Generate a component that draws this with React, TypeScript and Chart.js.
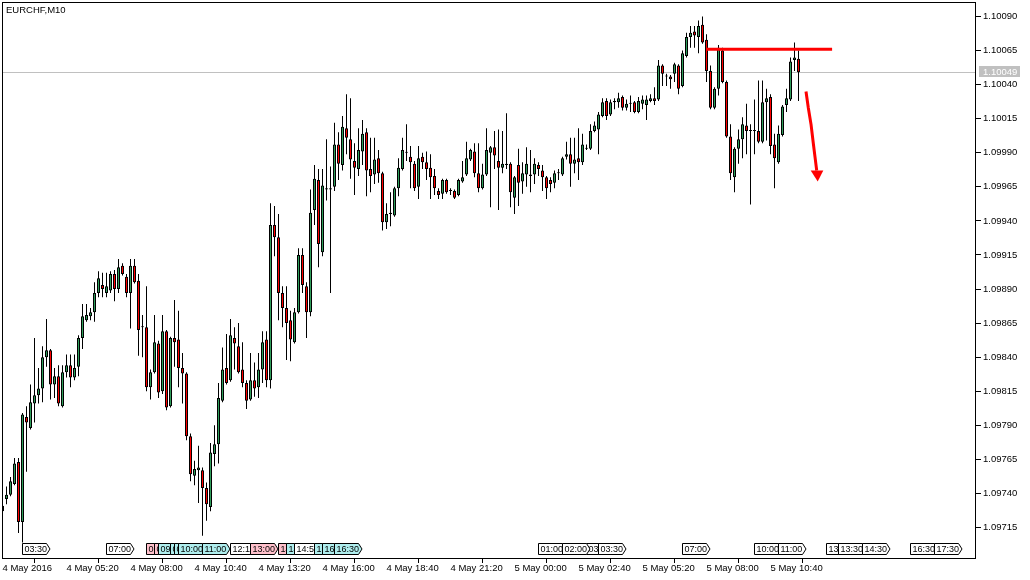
import React, { useEffect, useRef } from 'react';
import { Chart, registerables } from 'chart.js';

Chart.register(...registerables);

// ---------- data (EURCHF, M10) ----------
const opens = [
  1.09727, 1.09736, 1.09739, 1.09747, 1.09763, 1.09719, 1.09796, 1.09788, 1.09806, 1.09812,
  1.09817, 1.09840, 1.09845, 1.09820, 1.09826, 1.09804, 1.09829, 1.09834, 1.09825, 1.09833,
  1.09854, 1.09867, 1.09870, 1.09873, 1.09887, 1.09893, 1.09887, 1.09889, 1.09901, 1.09890,
  1.09907, 1.09899, 1.09887, 1.09907, 1.09896, 1.09862, 1.09862, 1.09818, 1.09829, 1.09850,
  1.09815, 1.09859, 1.09804, 1.09854, 1.09853, 1.09832, 1.09828, 1.09782, 1.09753, 1.09757,
  1.09757, 1.09744, 1.09730, 1.09769, 1.09776, 1.09808, 1.09832, 1.09823, 1.09854, 1.09848,
  1.09831, 1.09821, 1.09809, 1.09823, 1.09818, 1.09831, 1.09853, 1.09823, 1.09937, 1.09928,
  1.09887, 1.09876, 1.09867, 1.09851, 1.09873, 1.09915, 1.09892, 1.09873, 1.09948, 1.09970,
  1.09917, 1.09964, 1.09964, 1.09965, 1.09996, 1.09981, 1.10008, 1.10000, 1.09984, 1.09978,
  1.09991, 1.10005, 1.09978, 1.09974, 1.09986, 1.09975, 1.09939, 1.09945, 1.09944, 1.09964,
  1.09978, 1.09990, 1.09987, 1.09982, 1.09965, 1.09987, 1.09983, 1.09979, 1.09973, 1.09962,
  1.09960, 1.09970, 1.09962, 1.09962, 1.09959, 1.09969, 1.09974, 1.09985, 1.09991, 1.09975,
  1.09964, 1.09974, 1.09990, 1.09994, 1.09984, 1.09979, 1.09982, 1.09982, 1.09957, 1.09981,
  1.09969, 1.09974, 1.09974, 1.09974, 1.09981, 1.09977, 1.09972, 1.09970, 1.09968, 1.09975,
  1.09974, 1.09987, 1.09989, 1.09982, 1.09986, 1.09983, 1.09993, 1.09993, 1.10006, 1.10007,
  1.10017, 1.10028, 1.10018, 1.10028, 1.10027, 1.10031, 1.10023, 1.10026, 1.10027, 1.10020,
  1.10026, 1.10025, 1.10028, 1.10030, 1.10029, 1.10054, 1.10046, 1.10046, 1.10048, 1.10054,
  1.10039, 1.10061, 1.10075, 1.10079, 1.10075, 1.10084, 1.10073, 1.10050, 1.10023, 1.10037,
  1.10065, 1.10042, 1.10002, 1.09972, 1.09993, 1.10000, 1.10010, 1.10006, 1.10006, 1.10006,
  1.09998, 1.10027, 1.10031, 1.09996, 1.09983, 1.10003, 1.10025, 1.10029, 1.10058, 1.10059,
];
const highs = [
  1.09737, 1.09745, 1.09752, 1.09766, 1.09766, 1.09799, 1.09804, 1.09820, 1.09854, 1.09832,
  1.09848, 1.09868, 1.09846, 1.09832, 1.09834, 1.09834, 1.09842, 1.09842, 1.09842, 1.09856,
  1.09879, 1.09879, 1.09876, 1.09895, 1.09903, 1.09902, 1.09902, 1.09903, 1.09904, 1.09912,
  1.09909, 1.09901, 1.09912, 1.09912, 1.09901, 1.09871, 1.09892, 1.09831, 1.09871, 1.09852,
  1.09871, 1.09860, 1.09855, 1.09882, 1.09874, 1.09843, 1.09829, 1.09784, 1.09764, 1.09775,
  1.09759, 1.09748, 1.09777, 1.09790, 1.09821, 1.09847, 1.09857, 1.09868, 1.09862, 1.09865,
  1.09851, 1.09823, 1.09843, 1.09836, 1.09843, 1.09859, 1.09859, 1.09953, 1.09951, 1.09945,
  1.09892, 1.09892, 1.09874, 1.09876, 1.09920, 1.09920, 1.09895, 1.09963, 1.09981, 1.09978,
  1.09978, 1.10000, 1.09980, 1.10012, 1.10005, 1.10017, 1.10033, 1.10030, 1.09997, 1.10008,
  1.10014, 1.10008, 1.10001, 1.10001, 1.09992, 1.09976, 1.09953, 1.09961, 1.09965, 1.09986,
  1.10001, 1.10011, 1.09995, 1.09984, 1.09995, 1.09990, 1.09991, 1.09989, 1.09978, 1.09964,
  1.09971, 1.09971, 1.09964, 1.09963, 1.09971, 1.09984, 1.09998, 1.09993, 1.09997, 1.09997,
  1.09982, 1.10008, 1.09995, 1.10006, 1.10007, 1.10006, 1.10019, 1.09983, 1.09973, 1.09993,
  1.09983, 1.09994, 1.09992, 1.09986, 1.09983, 1.09981, 1.09973, 1.09972, 1.09977, 1.09978,
  1.09987, 1.09998, 1.10001, 1.10001, 1.10008, 1.10004, 1.09996, 1.10011, 1.10013, 1.10020,
  1.10030, 1.10030, 1.10029, 1.10030, 1.10034, 1.10032, 1.10029, 1.10032, 1.10028, 1.10031,
  1.10032, 1.10032, 1.10033, 1.10038, 1.10058, 1.10055, 1.10048, 1.10047, 1.10056, 1.10055,
  1.10065, 1.10078, 1.10083, 1.10083, 1.10087, 1.10090, 1.10077, 1.10054, 1.10038, 1.10069,
  1.10067, 1.10043, 1.10011, 1.09994, 1.10007, 1.10016, 1.10026, 1.10011, 1.10029, 1.10043,
  1.10043, 1.10037, 1.10033, 1.10004, 1.10010, 1.10025, 1.10037, 1.10060, 1.10071, 1.10065,
];
const lows = [
  1.09716, 1.09732, 1.09738, 1.09746, 1.09711, 1.09704, 1.09756, 1.09787, 1.09792, 1.09806,
  1.09807, 1.09833, 1.09809, 1.09810, 1.09804, 1.09803, 1.09825, 1.09818, 1.09823, 1.09826,
  1.09846, 1.09866, 1.09867, 1.09866, 1.09884, 1.09884, 1.09884, 1.09887, 1.09881, 1.09887,
  1.09900, 1.09884, 1.09861, 1.09894, 1.09841, 1.09840, 1.09815, 1.09809, 1.09828, 1.09810,
  1.09813, 1.09801, 1.09803, 1.09833, 1.09818, 1.09806, 1.09779, 1.09749, 1.09746, 1.09733,
  1.09709, 1.09720, 1.09727, 1.09760, 1.09762, 1.09807, 1.09820, 1.09822, 1.09831, 1.09828,
  1.09818, 1.09802, 1.09808, 1.09811, 1.09810, 1.09821, 1.09818, 1.09817, 1.09914, 1.09867,
  1.09862, 1.09838, 1.09837, 1.09850, 1.09872, 1.09887, 1.09854, 1.09870, 1.09937, 1.09906,
  1.09914, 1.09955, 1.09887, 1.09962, 1.09970, 1.09977, 1.09989, 1.09971, 1.09959, 1.09973,
  1.09981, 1.09958, 1.09961, 1.09967, 1.09968, 1.09933, 1.09934, 1.09936, 1.09943, 1.09958,
  1.09977, 1.09984, 1.09964, 1.09962, 1.09956, 1.09978, 1.09970, 1.09956, 1.09959, 1.09956,
  1.09956, 1.09960, 1.09959, 1.09956, 1.09958, 1.09968, 1.09973, 1.09984, 1.09972, 1.09961,
  1.09963, 1.09973, 1.09950, 1.09978, 1.09948, 1.09975, 1.09978, 1.09950, 1.09945, 1.09951,
  1.09960, 1.09965, 1.09961, 1.09967, 1.09973, 1.09962, 1.09956, 1.09961, 1.09964, 1.09970,
  1.09973, 1.09985, 1.09965, 1.09975, 1.09970, 1.09981, 1.09992, 1.09992, 1.10005, 1.09989,
  1.10016, 1.10014, 1.10017, 1.10022, 1.10023, 1.10021, 1.10021, 1.10020, 1.10019, 1.10019,
  1.10022, 1.10014, 1.10027, 1.10025, 1.10028, 1.10039, 1.10039, 1.10037, 1.10042, 1.10033,
  1.10038, 1.10060, 1.10067, 1.10067, 1.10063, 1.10070, 1.10042, 1.10022, 1.10022, 1.10032,
  1.10041, 1.10001, 1.09970, 1.09961, 1.09982, 1.09986, 1.09989, 1.09952, 1.09989, 1.09997,
  1.09997, 1.09999, 1.09989, 1.09964, 1.09982, 1.10002, 1.10020, 1.10028, 1.10050, 1.10028,
];
const closes = [
  1.09731, 1.09739, 1.09749, 1.09762, 1.09719, 1.09798, 1.09792, 1.09807, 1.09812, 1.09817,
  1.09840, 1.09845, 1.09820, 1.09826, 1.09806, 1.09829, 1.09834, 1.09825, 1.09832, 1.09854,
  1.09870, 1.09871, 1.09873, 1.09887, 1.09898, 1.09890, 1.09892, 1.09901, 1.09890, 1.09906,
  1.09901, 1.09887, 1.09907, 1.09895, 1.09860, 1.09862, 1.09818, 1.09829, 1.09851, 1.09814,
  1.09859, 1.09803, 1.09854, 1.09851, 1.09832, 1.09828, 1.09782, 1.09754, 1.09758, 1.09759,
  1.09744, 1.09732, 1.09770, 1.09776, 1.09810, 1.09831, 1.09821, 1.09856, 1.09850, 1.09829,
  1.09821, 1.09808, 1.09823, 1.09817, 1.09831, 1.09851, 1.09823, 1.09937, 1.09928, 1.09887,
  1.09876, 1.09865, 1.09853, 1.09873, 1.09915, 1.09893, 1.09873, 1.09946, 1.09971, 1.09923,
  1.09966, 1.09963, 1.09963, 1.09996, 1.09982, 1.10009, 1.10001, 1.09985, 1.09979, 1.09992,
  1.10004, 1.09977, 1.09973, 1.09985, 1.09975, 1.09939, 1.09945, 1.09946, 1.09964, 1.09979,
  1.09992, 1.09990, 1.09983, 1.09964, 1.09986, 1.09983, 1.09978, 1.09972, 1.09964, 1.09959,
  1.09970, 1.09961, 1.09962, 1.09957, 1.09970, 1.09972, 1.09986, 1.09992, 1.09975, 1.09964,
  1.09974, 1.09992, 1.09994, 1.09988, 1.09979, 1.09982, 1.09981, 1.09961, 1.09972, 1.09968,
  1.09975, 1.09982, 1.09973, 1.09982, 1.09978, 1.09972, 1.09964, 1.09967, 1.09975, 1.09975,
  1.09986, 1.09989, 1.09982, 1.09985, 1.09983, 1.09996, 1.09993, 1.10006, 1.10010, 1.10018,
  1.10027, 1.10017, 1.10027, 1.10027, 1.10030, 1.10023, 1.10026, 1.10026, 1.10020, 1.10028,
  1.10029, 1.10029, 1.10030, 1.10028, 1.10054, 1.10048, 1.10046, 1.10044, 1.10055, 1.10037,
  1.10063, 1.10075, 1.10078, 1.10076, 1.10083, 1.10071, 1.10050, 1.10023, 1.10037, 1.10067,
  1.10042, 1.10002, 1.09975, 1.09993, 1.10000, 1.10011, 1.10006, 1.10006, 1.10006, 1.09998,
  1.10027, 1.10030, 1.09995, 1.09986, 1.10004, 1.10024, 1.10030, 1.10057, 1.10060, 1.10049,
];

// price axis ticks
const priceTicks = [
  1.10090, 1.10065, 1.10040, 1.10015, 1.09990, 1.09965, 1.09940, 1.09915,
  1.09890, 1.09865, 1.09840, 1.09815, 1.09790, 1.09765, 1.09740, 1.09715,
];
// time axis ticks (bar index) and labels
const timeTickBars = [0, 16, 32, 48, 64, 80, 96, 112, 128, 144, 160, 176, 192];
const timeTickLabels = [
  '4 May 2016', '4 May 05:20', '4 May 08:00', '4 May 10:40', '4 May 13:20', '4 May 16:00',
  '4 May 18:40', '4 May 21:20', '5 May 00:00', '5 May 02:40', '5 May 05:20', '5 May 08:00', '5 May 10:40',
];

// session / event labels along the bottom (bar index, text, colour key)
const eventBars = [5, 26, 36, 38, 39, 42, 43, 44, 50, 57, 62, 69, 71, 73, 78, 80, 83,
  134, 146, 140, 149, 170, 188, 194, 206, 209, 215, 227, 233];
const eventTexts = ['03:30', '07:00', '08:40', '09:00', '09:10', '09:40', '09:50', '10:00', '11:00',
  '12:10', '13:00', '14:10', '14:30', '14:50', '15:40', '16:00', '16:30',
  '01:00', '03:00', '02:00', '03:30', '07:00', '10:00', '11:00', '13:00', '13:30', '14:30', '16:30', '17:30'];
const eventKinds = ['w', 'w', 'p', 'p', 'c', 'c', 'c', 'c', 'c', 'w', 'p', 'p', 'c', 'w', 'c', 'c', 'c',
  'w', 'w', 'w', 'w', 'w', 'w', 'w', 'w', 'w', 'w', 'w', 'w'];

// annotations
const title = 'EURCHF,M10';
const bidPrice = 1.10049;
const levelBars = [176.1, 207.4];
const levelPrice = 1.10066;
const arrowBars = [200.875, 201.45, 202.125, 202.7, 203.125, 203.55];
const arrowPrices = [1.10035, 1.10023, 1.10011, 1.09997, 1.09987, 1.09977];
const arrowHeadBars = [202.05, 205.2, 203.8];
const arrowHeadPrices = [1.09977, 1.09977, 1.09969];

// ---------- styling ----------
const FONT = 'Liberation Sans';
const BULL = '#2e9e5b';
const BEAR = '#ff0000';
const KIND_COLORS: Record<string, string> = { w: '#ffffff', p: '#ffc0cb', c: '#afeeee' };

const barIdx = opens.map((_, i) => i);

const overlay = {
  id: 'overlay',
  beforeDraw(chart: any) {
    const ctx = chart.ctx;
    ctx.save();
    ctx.fillStyle = '#ffffff';
    ctx.fillRect(0, 0, chart.width, chart.height);
    ctx.restore();
  },
  beforeDatasetsDraw(chart: any) {
    const { ctx, chartArea } = chart;
    const y = Math.round(chart.scales.y.getPixelForValue(bidPrice) - 0.5) + 0.5;
    ctx.save();
    ctx.strokeStyle = '#c0c0c0';
    ctx.lineWidth = 1;
    ctx.beginPath();
    ctx.moveTo(chartArea.left, y);
    ctx.lineTo(chartArea.right, y);
    ctx.stroke();
    ctx.restore();
  },
  afterDatasetsDraw(chart: any) {
    const { ctx, chartArea } = chart;
    const xs = chart.scales.x;
    const ys = chart.scales.y;
    ctx.save();
    // arrow
    ctx.strokeStyle = '#ff0000';
    ctx.fillStyle = '#ff0000';
    ctx.lineWidth = 3;
    ctx.lineJoin = 'round';
    ctx.beginPath();
    arrowBars.forEach((b, k) => {
      const px = xs.getPixelForValue(b);
      const py = ys.getPixelForValue(arrowPrices[k]);
      if (k === 0) ctx.moveTo(px, py);
      else ctx.lineTo(px, py);
    });
    ctx.stroke();
    ctx.beginPath();
    arrowHeadBars.forEach((b, k) => {
      const px = xs.getPixelForValue(b);
      const py = ys.getPixelForValue(arrowHeadPrices[k]);
      if (k === 0) ctx.moveTo(px, py);
      else ctx.lineTo(px, py);
    });
    ctx.closePath();
    ctx.fill();

    // event labels
    ctx.beginPath();
    ctx.rect(chartArea.left, chartArea.top, chartArea.right - chartArea.left, chartArea.bottom - chartArea.top);
    ctx.clip();
    ctx.lineWidth = 1;
    ctx.font = `9px "${FONT}"`;
    ctx.textBaseline = 'middle';
    const top = chartArea.bottom - 15.5;
    const bot = chartArea.bottom - 4.5;
    eventBars.forEach((b, k) => {
      const l = Math.round(xs.getPixelForValue(b) - 0.5) + 0.5;
      ctx.beginPath();
      ctx.moveTo(l, top);
      ctx.lineTo(l + 24, top);
      ctx.lineTo(l + 27.5, (top + bot) / 2);
      ctx.lineTo(l + 24, bot);
      ctx.lineTo(l, bot);
      ctx.closePath();
      ctx.fillStyle = KIND_COLORS[eventKinds[k]];
      ctx.fill();
      ctx.strokeStyle = '#000000';
      ctx.stroke();
      ctx.fillStyle = '#000000';
      ctx.fillText(eventTexts[k], l + 2, (top + bot) / 2 + 0.5);
    });
    ctx.restore();

    // frame
    ctx.save();
    ctx.strokeStyle = '#000000';
    ctx.lineWidth = 1;
    ctx.strokeRect(chartArea.left + 0.5, chartArea.top + 0.5,
      chartArea.right - chartArea.left - 1, chartArea.bottom - chartArea.top - 1);
    ctx.restore();
  },
  afterDraw(chart: any) {
    const { ctx, chartArea } = chart;
    const ys = chart.scales.y;
    ctx.save();
    ctx.font = `9.5px "${FONT}"`;
    ctx.fillStyle = '#000000';
    ctx.textBaseline = 'top';
    ctx.fillText(title, chartArea.left + 4, chartArea.top + 4);
    // bid price tag
    const y = ys.getPixelForValue(bidPrice);
    ctx.fillStyle = '#c0c0c0';
    ctx.fillRect(chartArea.right + 3, Math.round(y) - 6, 41, 11);
    ctx.fillStyle = '#ffffff';
    ctx.textBaseline = 'middle';
    ctx.fillText(bidPrice.toFixed(5), chartArea.right + 7, Math.round(y));
    ctx.restore();
  },
};

export default function App() {
  const ref = useRef<HTMLCanvasElement>(null);
  useEffect(() => {
    document.body.style.margin = '0';
    const bodyColors = opens.map((o, i) =>
      closes[i] > o ? BULL : closes[i] < o ? BEAR : '#000000');
    const chart = new Chart(ref.current as HTMLCanvasElement, {
      type: 'bar',
      data: {
        datasets: [
          {
            type: 'line',
            data: levelBars.map((b) => ({ x: b, y: levelPrice })),
            borderColor: '#ff0000',
            borderWidth: 3,
            pointRadius: 0,
            borderCapStyle: 'butt',
            order: 0,
          } as any,
          {
            type: 'bar',
            data: barIdx.map((i) => ({ x: i, y: [opens[i], closes[i]] })),
            backgroundColor: bodyColors,
            borderColor: '#000000',
            borderWidth: 1,
            borderSkipped: false,
            barThickness: 3,
            minBarLength: 1,
            inflateAmount: 0,
            grouped: false,
            order: 1,
          } as any,
          {
            type: 'bar',
            data: barIdx.map((i) => ({ x: i, y: [lows[i], highs[i]] })),
            backgroundColor: '#000000',
            borderWidth: 0,
            barThickness: 1,
            minBarLength: 1,
            inflateAmount: 0,
            grouped: false,
            order: 2,
          } as any,
        ],
      },
      options: {
        responsive: false,
        maintainAspectRatio: false,
        animation: false,
        events: [],
        devicePixelRatio: 1,
        layout: { padding: { left: 2, top: 2, right: 0, bottom: 0 } },
        plugins: { legend: { display: false }, tooltip: { enabled: false } },
        scales: {
          x: {
            type: 'linear',
            position: 'bottom',
            min: -0.125,
            max: 243.375,
            offset: false,
            afterBuildTicks: (s: any) => { s.ticks = timeTickBars.map((v) => ({ value: v })); },
            afterFit: (s: any) => {
              s.height = 21;
              s.paddingLeft = 0; s.paddingRight = 0; s.paddingTop = 0; s.paddingBottom = 0;
            },
            ticks: {
              autoSkip: false,
              maxRotation: 0,
              minRotation: 0,
              align: 'start',
              padding: 0,
              color: '#000000',
              font: { family: FONT, size: 9.5 },
              callback: (v: any) => timeTickLabels[timeTickBars.indexOf(Number(v))] ?? '',
            },
            grid: { drawOnChartArea: false, drawTicks: true, tickLength: 4, color: '#000000' },
            border: { display: false },
          },
          y: {
            type: 'linear',
            position: 'right',
            min: 1.0969188,
            max: 1.1010064,
            afterBuildTicks: (s: any) => { s.ticks = priceTicks.map((v) => ({ value: v })); },
            afterFit: (s: any) => {
              s.width = 54;
              s.paddingLeft = 0; s.paddingRight = 0; s.paddingTop = 0; s.paddingBottom = 0;
            },
            ticks: {
              padding: 2,
              color: '#000000',
              font: { family: FONT, size: 9.5 },
              callback: (v: any) => Number(v).toFixed(5),
            },
            grid: { drawOnChartArea: false, drawTicks: true, tickLength: 5, color: '#000000' },
            border: { display: false },
          },
        },
      } as any,
      plugins: [overlay],
    });
    return () => chart.destroy();
  }, []);
  return (
    <canvas
      ref={ref}
      width={1030}
      height={580}
      style={{ display: 'block', width: '1030px', height: '580px' }}
    />
  );
}
